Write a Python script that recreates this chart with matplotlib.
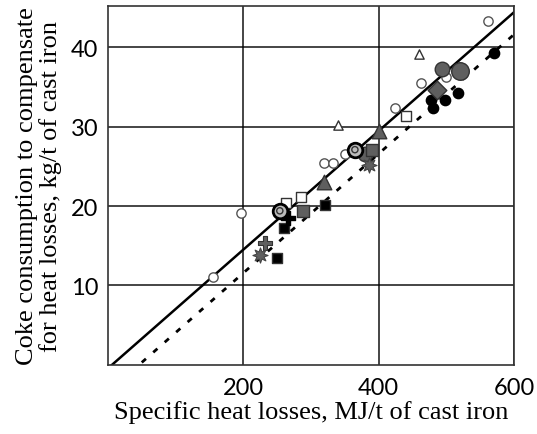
import numpy as np
import matplotlib.pyplot as plt

# data (x: MJ/t, y: kg/t)
open_circ_x = [155, 197, 320, 333, 350, 424, 463, 500, 561]
open_circ_y = [11.1, 19.1, 25.4, 25.4, 26.5, 32.3, 35.5, 36.2, 43.3]
open_tri_x = [340, 459]
open_tri_y = [30.2, 39.1]
open_sq_x = [263, 285, 441]
open_sq_y = [20.4, 21.1, 31.4]
blk_circ_x = [478, 498, 480, 517, 571]
blk_circ_y = [33.4, 33.3, 32.3, 34.3, 39.3]
blk_sq_x = [250, 260, 321]
blk_sq_y = [13.4, 17.2, 20.1]
blk_plus_x = [266]
blk_plus_y = [18.5]
grey_circ_x = [380, 494]
grey_circ_y = [26.6, 37.2]
grey_big_x = [521]
grey_big_y = [37.0]
grey_dia_x = [487]
grey_dia_y = [34.6]
grey_tri_x = [319, 400]
grey_tri_y = [23.0, 29.5]
grey_sq_x = [288, 391]
grey_sq_y = [19.4, 27.1]
ring_x = [254, 365]
ring_y = [19.4, 27.1]
grey_plus_x = [232]
grey_plus_y = [15.3]
grey_star_x = [225, 386]
grey_star_y = [13.8, 25.2]

# fitted lines
solid_x = [6, 600]
solid_y = [0, 44.4]
dash_x = [50, 600]
dash_y = [0.3, 41.6]

grey = '#5f5f5f'

fig = plt.figure(figsize=(5.37, 4.35), dpi=100)
ax = fig.add_axes([0.201, 0.159, 0.756, 0.825])

ax.plot(solid_x, solid_y, color='black', lw=1.8, zorder=2)
ax.plot(dash_x, dash_y, color='black', lw=2, ls=(0, (2, 3.5)), zorder=2)

ax.scatter(open_circ_x, open_circ_y, s=45, facecolor='white', edgecolor='#555555', lw=1, zorder=3)
ax.scatter(open_tri_x, open_tri_y, s=45, marker='^', facecolor='white', edgecolor='#333333', lw=1, zorder=3)
ax.scatter(open_sq_x, open_sq_y, s=50, marker='s', facecolor='white', edgecolor='#333333', lw=1, zorder=3)
ax.scatter(blk_circ_x, blk_circ_y, s=55, color='black', zorder=3)
ax.scatter(blk_sq_x, blk_sq_y, s=50, marker='s', facecolor='black', edgecolor='#333333', zorder=3)
ax.scatter(blk_plus_x, blk_plus_y, s=100, marker='P', color='black', zorder=3)
ax.scatter(grey_circ_x, grey_circ_y, s=110, facecolor=grey, edgecolor='#333333', lw=1, zorder=3)
ax.scatter(grey_big_x, grey_big_y, s=160, facecolor=grey, edgecolor='#333333', lw=1, zorder=3)
ax.scatter(grey_dia_x, grey_dia_y, s=90, marker='D', facecolor=grey, edgecolor='#333333', lw=1, zorder=3)
ax.scatter(grey_tri_x, grey_tri_y, s=110, marker='^', facecolor=grey, edgecolor='#333333', lw=1, zorder=3)
ax.scatter(grey_sq_x, grey_sq_y, s=80, marker='s', facecolor=grey, edgecolor='#333333', lw=1, zorder=3)
ax.scatter(ring_x, ring_y, s=110, facecolor='#bbbbbb', edgecolor='black', lw=2, zorder=3)
ax.scatter(ring_x, ring_y, s=20, facecolor='none', edgecolor='#333333', lw=1, zorder=4)
ax.scatter(grey_plus_x, grey_plus_y, s=110, marker='P', facecolor=grey, edgecolor='#333333', lw=0.8, zorder=3)
ax.scatter(grey_star_x, grey_star_y, s=120, marker=(8, 1, 0), facecolor=grey, edgecolor='#444444', lw=0.8, zorder=3)

ax.set_xlim(0, 600)
ax.set_ylim(0, 45.2)
ax.set_xticks([200, 400, 600])
ax.set_yticks([10, 20, 30, 40])
ax.grid(True, color='black', lw=1.2, alpha=0.85)
ax.set_axisbelow(True)
for sp in ax.spines.values():
    sp.set_linewidth(1.2)
    sp.set_color('#333333')
ax.tick_params(length=0, labelsize=17)
ax.tick_params(axis='x', pad=9)
ax.tick_params(axis='y', pad=7)
for lab in ax.get_xticklabels() + ax.get_yticklabels():
    lab.set_family('Lato')

ax.set_xlabel('Specific heat losses, MJ/t of cast iron', family='Liberation Serif', fontsize=19, labelpad=1)
ax.set_ylabel('Coke consumption to compensate\nfor heat losses, kg/t of cast iron', family='Liberation Serif',
              fontsize=19, labelpad=6, linespacing=1.05)

fig.savefig('out.png', dpi=100)
